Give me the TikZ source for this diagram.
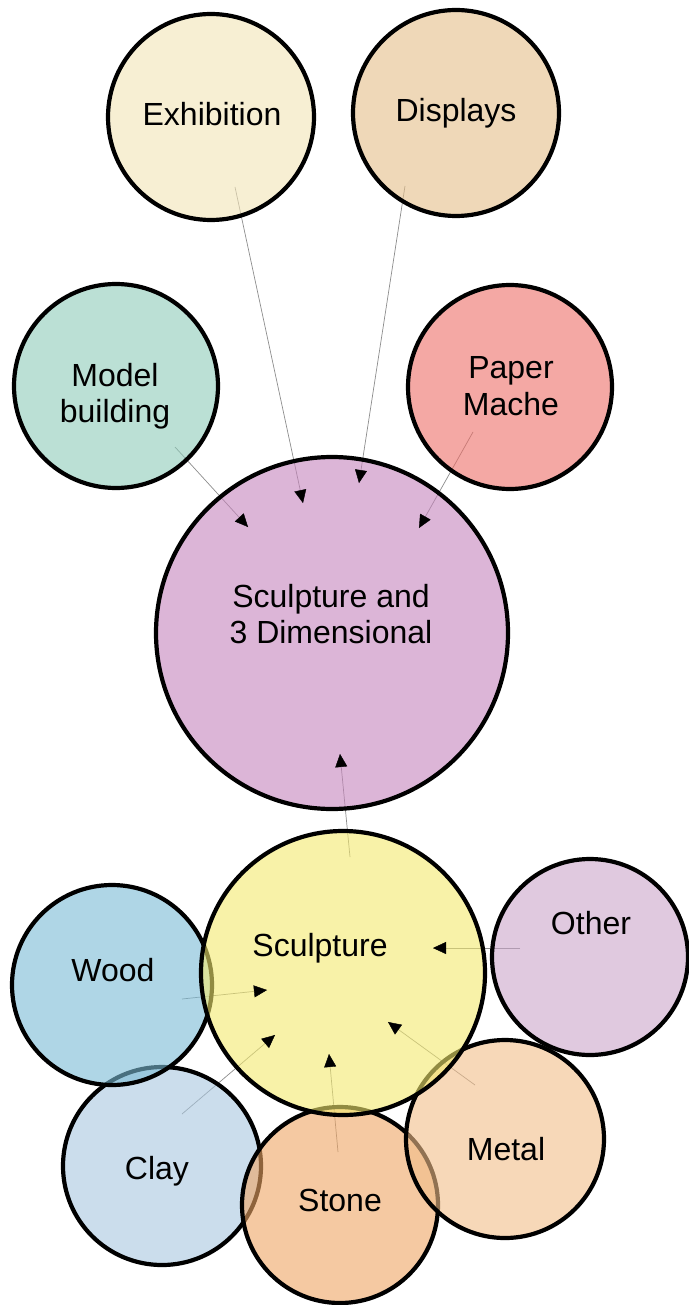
\documentclass[tikz,border=0pt]{standalone}
\usepackage{fontspec}
\setmainfont{Liberation Sans}
\usetikzlibrary{arrows.meta,calc}

% bubble fill colours (laid down at 60% so overlaps mix)
\definecolor{cExh}{RGB}{242,228,182}
\definecolor{cDis}{RGB}{228,190,137}
\definecolor{cMdl}{RGB}{142,203,185}
\definecolor{cPap}{RGB}{237,110,103}
\definecolor{cSdd}{RGB}{197,132,188}
\definecolor{cScu}{RGB}{243,233,110}
\definecolor{cOth}{RGB}{203,165,202}
\definecolor{cWoo}{RGB}{122,187,213}
\definecolor{cCla}{RGB}{168,198,223}
\definecolor{cSto}{RGB}{238,165,100}
\definecolor{cMet}{RGB}{242,190,137}

\pgfdeclarelayer{links}
\pgfsetlayers{links,main}

\tikzset{
  bub/.style={circle, draw=black, line width=4.2pt, fill opacity=0.6, inner sep=0pt},
  lbl/.style={anchor=base, inner sep=0pt, font=\fontsize{32}{36.5}\selectfont},
  conn/.style={draw=black!45, line width=0.7pt},
  head/.style={tips, -{Triangle[length=13pt, width=12pt]}, black}
}

\begin{document}
\begin{tikzpicture}[x=1pt, y=-1pt]
\useasboundingbox (0,0) rectangle (688,1305);

% ---- bubbles (order sets which one lies on top) ----
\node[bub, fill=cExh, minimum size=206pt] (exh) at (211,117) {};
\node[bub, fill=cDis, minimum size=206pt] (dis) at (456,113) {};
\node[bub, fill=cMdl, minimum size=204pt] (mdl) at (116,386) {};
\node[bub, fill=cPap, minimum size=204pt] (pap) at (510,387) {};
\node[bub, fill=cSdd, minimum size=352pt] (sdd) at (332,633) {};
\node[bub, fill=cCla, minimum size=198pt] (cla) at (162,1166) {};
\node[bub, fill=cWoo, minimum size=200pt] (woo) at (112,985) {};
\node[bub, fill=cSto, minimum size=196pt] (sto) at (340,1205) {};
\node[bub, fill=cMet, minimum size=198pt] (met) at (505,1139) {};
\node[bub, fill=cOth, minimum size=196pt] (oth) at (590,957) {};
\node[bub, fill=cScu, minimum size=284pt] (scu) at (343,973) {};

% ---- labels ----
\node[lbl] (exhT) at (212,126) {Exhibition};
\node[lbl] (disT) at (456,122) {Displays};
\node[lbl] (mdlT1) at (115,386) {Model};
\node[lbl] (mdlT2) at (115,422) {building};
\node[lbl] (papT1) at (511,378) {Paper};
\node[lbl] (papT2) at (511,415) {Mache};
\node[lbl] (sddT1) at (331,607) {Sculpture and};
\node[lbl] (sddT2) at (331,643) {3 Dimensional};
\node[lbl] (scuT) at (320,956) {Sculpture};
\node[lbl] (othT) at (591,934) {Other};
\node[lbl] (wooT) at (113,981) {Wood};
\node[lbl] (claT) at (157,1179) {Clay};
\node[lbl] (stoT) at (340,1211) {Stone};
\node[lbl] (metT) at (506,1160) {Metal};

% ---- connector end points ----
\coordinate (exhO) at (235,187);  \coordinate (sddI1) at (303,503);
\coordinate (disO) at (405,186);  \coordinate (sddI2) at (359,483);
\coordinate (mdlO) at (175,447);  \coordinate (sddI3) at (248,527);
\coordinate (papO) at (473,432);  \coordinate (sddI4) at (419,528);
\coordinate (scuO) at (350,857);  \coordinate (sddI5) at (340,754);
\coordinate (othO) at (520,948);  \coordinate (scuI1) at (433,948);
\coordinate (metO) at (475,1085); \coordinate (scuI2) at (388,1022);
\coordinate (wooO) at (182,999);  \coordinate (scuI3) at (267,990);
\coordinate (claO) at (182,1114); \coordinate (scuI4) at (275,1035);
\coordinate (stoO) at (338,1152); \coordinate (scuI5) at (329,1054);

% ---- connector lines, beneath the bubbles ----
\begin{pgfonlayer}{links}
  \draw[conn] (exhO) -- (sddI1);
  \draw[conn] (disO) -- (sddI2);
  \draw[conn] (mdlO) -- (sddI3);
  \draw[conn] (papO) -- (sddI4);
  \draw[conn] (scuO) -- (sddI5);
  \draw[conn] (othO) -- (scuI1);
  \draw[conn] (metO) -- (scuI2);
  \draw[conn] (wooO) -- (scuI3);
  \draw[conn] (claO) -- (scuI4);
  \draw[conn] (stoO) -- (scuI5);
\end{pgfonlayer}

% ---- arrow heads, on top ----
\path[head] (exhO) -- (sddI1);
\path[head] (disO) -- (sddI2);
\path[head] (mdlO) -- (sddI3);
\path[head] (papO) -- (sddI4);
\path[head] (scuO) -- (sddI5);
\path[head] (othO) -- (scuI1);
\path[head] (metO) -- (scuI2);
\path[head] (wooO) -- (scuI3);
\path[head] (claO) -- (scuI4);
\path[head] (stoO) -- (scuI5);
\end{tikzpicture}
\end{document}
